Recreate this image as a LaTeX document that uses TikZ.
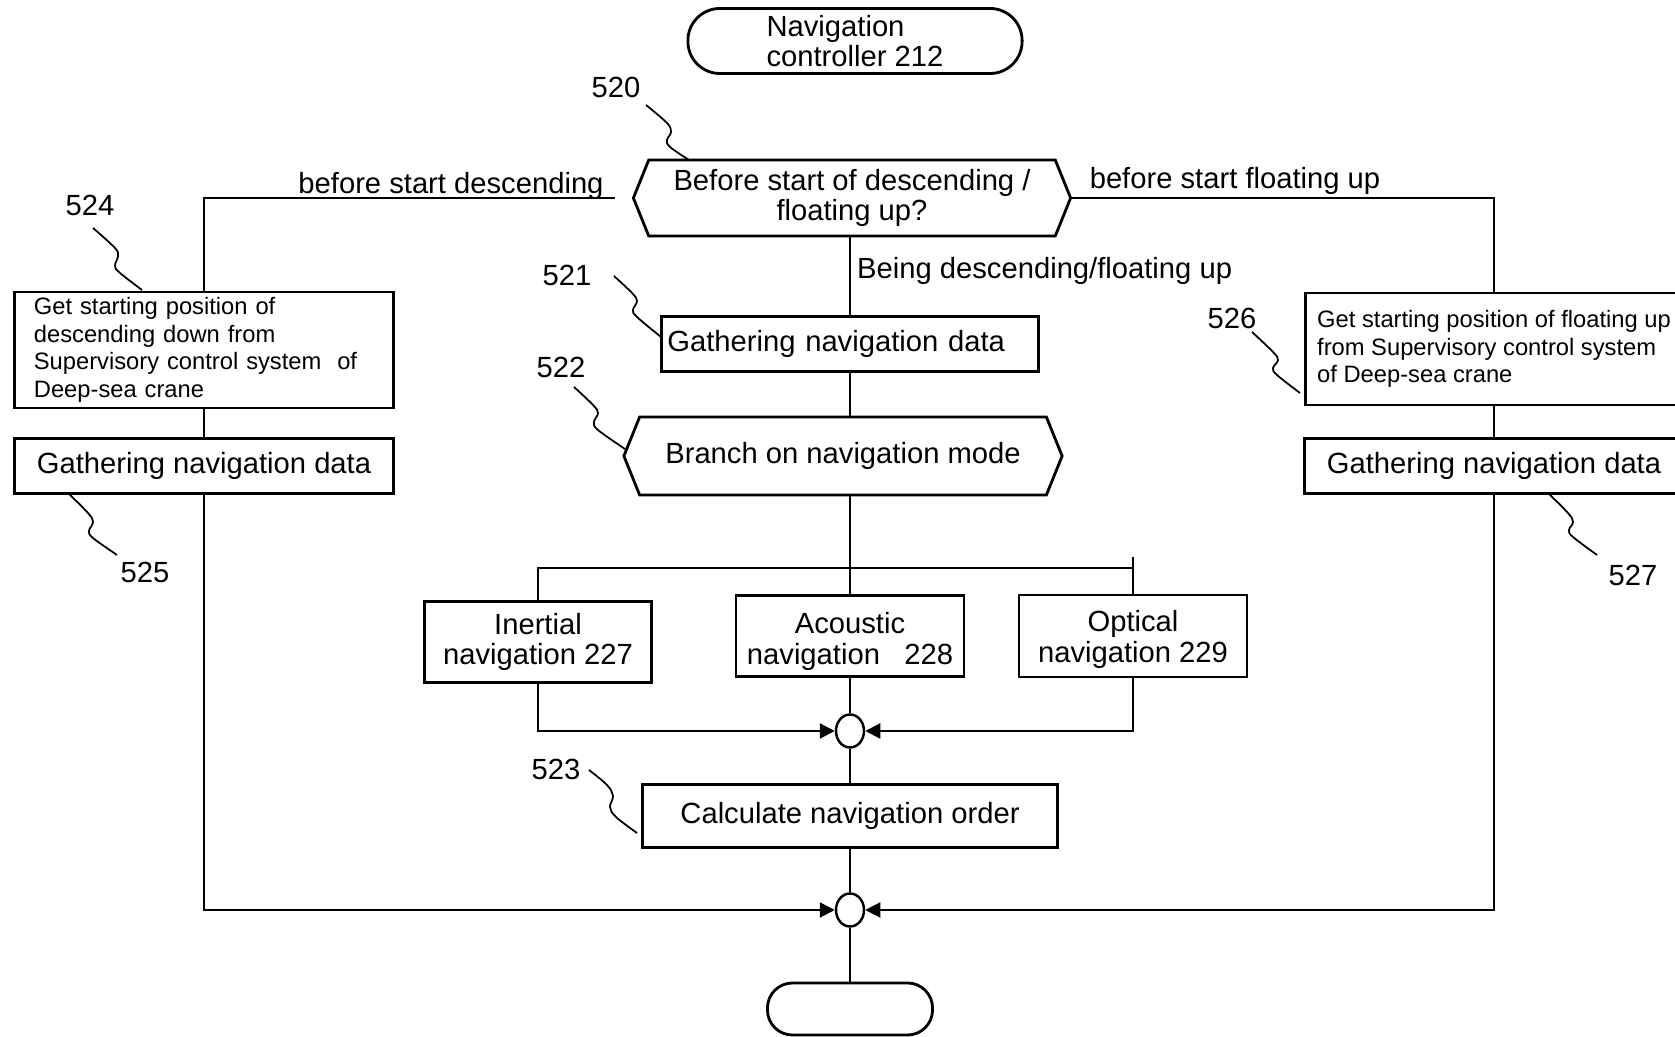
\documentclass[tikz,border=0pt]{standalone}
\usepackage{fontspec}
\setmainfont{Liberation Sans}
\usetikzlibrary{arrows.meta,positioning,shapes.geometric,shapes.symbols}

\begin{document}
\begin{tikzpicture}[
  x=0.01cm,y=-0.01cm,
  every node/.style={font=\fontsize{8.3}{8.7}\selectfont},
  term/.style={draw,line width=0.8pt,inner sep=0pt,align=left},
  box/.style={draw,line width=0.8pt,inner sep=0pt},
  hexa/.style={draw,signal,signal to=west and east,signal pointer angle=136,
               line width=0.8pt,inner sep=0pt,align=center},
  merge/.style={draw,ellipse,minimum width=0.28cm,minimum height=0.33cm,
                inner sep=0pt,line width=0.7pt},
  ln/.style={line width=0.5pt},
  arr/.style={line width=0.6pt,-{Triangle[length=0.15cm,width=0.15cm]}},
  lead/.style={line width=0.5pt},
  tag/.style={inner sep=1pt},
  small/.style={font=\fontsize{6.75}{7.8}\selectfont,align=left}]

  \useasboundingbox (0,0) rectangle (1675,1037);

  % --- terminals
  \node[term,rounded corners=0.32cm,minimum width=3.34cm,minimum height=0.65cm]
       (start) at (855,41) {Navigation\\controller 212};
  \node[term,rounded corners=0.25cm,minimum width=1.65cm,minimum height=0.52cm]
       (stop) at (850,1009) {};

  % --- decision 520
  \node[hexa,minimum width=4.37cm,minimum height=0.76cm] (dec) at (852,198)
       {Before start of descending /\\floating up?};
  \node at (451,186) {before start descending};
  \node at (1235,181) {before start floating up};
  \node[anchor=west,inner sep=1pt] at (853,271) {Being descending/floating up};

  % --- center column
  \node[box,minimum width=3.77cm,minimum height=0.55cm,text width=3.65cm,
        align=left] (g521) at (850,344) {Gathering navigation data};
  \node[hexa,minimum width=4.38cm,minimum height=0.78cm] (branch) at (843,456)
       {Branch on navigation mode};
  \node[box,minimum width=2.27cm,minimum height=0.81cm,align=center]
       (inertial) at (538,642) {Inertial\\navigation 227};
  \node[box,minimum width=2.28cm,minimum height=0.81cm,align=center]
       (acoustic) at (850,636) {\rule{0pt}{9pt}Acoustic\\navigation\ \ \ 228};
  \node[box,minimum width=2.28cm,minimum height=0.82cm,align=center]
       (optical) at (1133,636) {\rule{0pt}{8pt}Optical\\navigation 229};
  \node[merge] (m1) at (850,731) {};
  \node[box,minimum width=4.15cm,minimum height=0.63cm] (calc) at (850,816)
       {Calculate navigation order};
  \node[merge] (m2) at (850,910) {};

  % --- left column (descending)
  \node[box,small,minimum width=3.78cm,minimum height=1.16cm,text width=3.4cm]
       (get524) at (204,350)
       {Get starting position of\\descending down from\\Supervisory control system\ \ of\\Deep-sea crane};
  \node[box,minimum width=3.78cm,minimum height=0.55cm] (gat525) at (204,466)
       {Gathering navigation data\hspace{0.4cm}};

  % --- right column (floating up), cut by the page edge
  \node[box,small,minimum width=3.76cm,minimum height=1.12cm] (get526) at (1494,349)
       {Get starting position of floating up\\from Supervisory control system\\of Deep-sea crane};
  \node[box,minimum width=3.78cm,minimum height=0.55cm] (gat527) at (1494,466)
       {Gathering navigation data};

  % --- reference numerals
  \node[tag] (l520) at (616,87)  {520};
  \node[tag] (l521) at (567,275) {521};
  \node[tag] (l522) at (561,367) {522};
  \node[tag] (l523) at (556,769) {523};
  \node[tag] (l524) at (90,205)  {524};
  \node[tag] (l525) at (145,572) {525};
  \node[tag] (l526) at (1232,318) {526};
  \node[tag] (l527) at (1633,575) {527};

  % --- flow lines
  \draw[ln] (start.south -| g521.north) -- (start.south -| g521.north |- dec.north);
  \draw[ln,shorten <=0.17cm] (dec.west) -| (get524.north);
  \draw[ln] (dec.east) -| (get526.north);
  \draw[ln] (dec.south -| g521.north) -- (g521.north);
  \draw[ln] (g521.south) -- (g521.south |- branch.north);
  \draw[ln] (branch.south -| acoustic.north) -- (acoustic.north);
  \coordinate (bar) at (850,568);
  \draw[ln] (inertial.north) |- (bar) -| (optical.north);
  \draw[ln] (optical.north) -- ++(0,-37);
  \draw[ln] (acoustic.south) -- (m1.north);
  \draw[arr] (inertial.south) |- (m1.west);
  \draw[arr] (optical.south) |- (m1.east);
  \draw[ln] (m1.south) -- (calc.north);
  \draw[ln] (calc.south) -- (m2.north);
  \draw[ln] (m2.south) -- (stop.north);
  \draw[ln] (get524.south) -- (gat525.north);
  \draw[ln] (get526.south) -- (gat527.north);
  \draw[arr] (gat525.south) |- (m2.west);
  \draw[arr] (gat527.south) |- (m2.east);

  % --- leader squiggles
  \draw[lead] plot[smooth,tension=0.6] coordinates
       {(646,105) (667,123) (671,132) (667,140) (670,147) (689,160)};
  \draw[lead] plot[smooth,tension=0.6] coordinates
       {(614,276) (632,293) (637,301) (633,310) (637,317) (661,337)};
  \draw[lead] plot[smooth,tension=0.6] coordinates
       {(574,387) (593,405) (598,413) (594,422) (598,430) (625,449)};
  \draw[lead] plot[smooth,tension=0.6] coordinates
       {(589,770) (607,785) (613,796) (610,807) (616,817) (637,833)};
  \draw[lead] plot[smooth,tension=0.6] coordinates
       {(93,228) (115,248) (118,256) (115,266) (120,273) (142,290)};
  \draw[lead] plot[smooth,tension=0.6] coordinates
       {(68,493) (88,513) (93,522) (89,531) (93,538) (117,555)};
  \draw[lead] plot[smooth,tension=0.6] coordinates
       {(1252,332) (1273,352) (1278,360) (1273,368) (1277,375) (1300,393)};
  \draw[lead] plot[smooth,tension=0.6] coordinates
       {(1548,493) (1568,513) (1573,522) (1569,530) (1573,537) (1597,555)};
\end{tikzpicture}
\end{document}
